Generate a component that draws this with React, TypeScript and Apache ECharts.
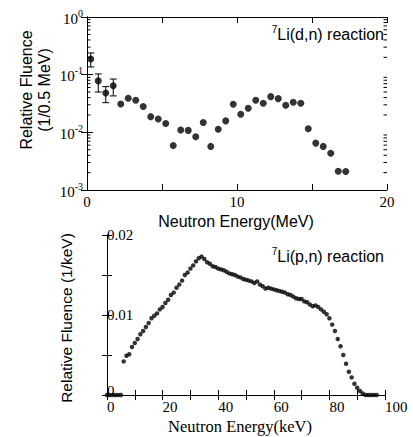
import React, { useEffect, useRef } from 'react';
import * as echarts from 'echarts';

// 7Li(d,n) spectrum (per 0.5 MeV bin)
const dnEnergy = [0.25, 0.75, 1.25, 1.75, 2.25, 2.75, 3.25, 3.75, 4.25, 4.75, 5.25, 5.75, 6.25, 6.75, 7.25, 7.75, 8.25, 8.75, 9.25, 9.75, 10.25, 10.75, 11.25, 11.75, 12.25, 12.75, 13.25, 13.75, 14.25, 14.75, 15.25, 15.75, 16.25, 16.75, 17.25];
const dnFluence = [0.187, 0.078, 0.048, 0.064, 0.031, 0.039, 0.036, 0.028, 0.0187, 0.017, 0.0142, 0.0059, 0.011, 0.0108, 0.0084, 0.0148, 0.0057, 0.0113, 0.0158, 0.0307, 0.0206, 0.0261, 0.036, 0.0319, 0.0416, 0.0384, 0.0295, 0.0332, 0.0319, 0.0115, 0.0065, 0.0057, 0.00434, 0.00212, 0.00209];
// error bars for the first four points
const dnErrEnergy = [0.25, 0.75, 1.25, 1.75];
const dnErrLow = [0.136, 0.05, 0.0327, 0.0428];
const dnErrHigh = [0.238, 0.103, 0.062, 0.084];

// 7Li(p,n) spectrum (per keV)
const pnEnergy = [0, 1, 2, 3, 4, 5, 6, 7, 8, 9, 10, 11, 12, 13, 14, 15, 16, 17, 18, 19, 20, 21, 22, 23, 24, 25, 26, 27, 28, 29, 30, 31, 32, 33, 34, 35, 36, 37, 38, 39, 40, 41, 42, 43, 44, 45, 46, 47, 48, 49, 50, 51, 52, 53, 54, 55, 56, 57, 58, 59, 60, 61, 62, 63, 64, 65, 66, 67, 68, 69, 70, 71, 72, 73, 74, 75, 76, 77, 78, 79, 80, 81, 82, 83, 84, 85, 86, 87, 88, 89, 90, 91, 92, 93, 94, 95, 96, 97];
const pnFluence = [
  0, 0, 0, 0, 0, 0,
  0.0042, 0.0049, 0.0051, 0.006, 0.0065, 0.007, 0.0076, 0.008, 0.0085, 0.009,
  0.0096, 0.0099, 0.0102, 0.0107, 0.011, 0.0115, 0.0119, 0.0125, 0.0128, 0.0134,
  0.0138, 0.0143, 0.015, 0.0153, 0.0158, 0.0162, 0.0167, 0.0171, 0.0173, 0.017,
  0.0166, 0.0164, 0.0161, 0.016, 0.0158, 0.0157, 0.0156, 0.0154, 0.0152, 0.0151,
  0.015, 0.0148, 0.0147, 0.0145, 0.0144, 0.0143, 0.0142, 0.014, 0.0142, 0.0138,
  0.0136, 0.0133, 0.0134, 0.0133, 0.0132, 0.0131, 0.013, 0.0129, 0.0128, 0.0126,
  0.0125, 0.0123, 0.0121, 0.012, 0.012, 0.0117, 0.0116, 0.0113, 0.0111, 0.0112,
  0.011, 0.0107, 0.0104, 0.0101, 0.0096, 0.0088, 0.008, 0.007, 0.0061, 0.005,
  0.0039, 0.0029, 0.0022, 0.0014, 0.0009, 0.0005, 0.0002, 0, 0, 0,
  0, 0,
];

const dnXLabels = [0, 10, 20];
const pnXLabels = [0, 20, 40, 60, 80, 100];
const pnYLabels = ['0', '0.01', '0.02'];

const SERIF = '"Liberation Serif", "Times New Roman", serif';
const SANS = '"Liberation Sans", Arial, sans-serif';
const BLACK = '#000';

export default function App() {
  const ref = useRef<HTMLDivElement>(null);
  useEffect(() => {
    if (!ref.current) return;
    const chart = echarts.init(ref.current, undefined, { renderer: 'svg' });

    const minorLog: number[][] = [];
    for (let n = -3; n < 0; n++) {
      for (let k = 2; k <= 9; k++) minorLog.push([0, k * Math.pow(10, n)]);
    }

    const line = { lineStyle: { color: BLACK, width: 1 } };
    const tickStyle = (len: number) => ({ show: true, inside: true, length: len, lineStyle: { color: BLACK, width: 1 } });

    const option: any = {
      animation: false,
      backgroundColor: '#fff',
      grid: [
        { left: 87, top: 17, width: 300, height: 173 },
        { left: 107, top: 235, width: 278, height: 160 },
      ],
      xAxis: [
        {
          gridIndex: 0, type: 'value', position: 'bottom', min: 0, max: 20, interval: 5,
          axisLine: { show: true, ...line }, axisTick: tickStyle(6), splitLine: { show: false },
          axisLabel: {
            margin: 4, fontFamily: SERIF, fontSize: 15, color: BLACK,
            formatter: (v: number) => (dnXLabels.indexOf(v) >= 0 ? String(v) : ''),
          },
        },
        {
          gridIndex: 0, type: 'value', position: 'top', min: 0, max: 20, interval: 5,
          axisLine: { show: true, ...line }, axisTick: tickStyle(6), splitLine: { show: false },
          axisLabel: { show: false },
        },
        {
          gridIndex: 1, type: 'value', position: 'bottom', min: 0, max: 100, interval: 10,
          axisLine: { show: true, ...line }, axisTick: tickStyle(5), splitLine: { show: false },
          axisLabel: {
            margin: 6, align: 'left', fontFamily: SERIF, fontSize: 15, lineHeight: 11, color: BLACK,
            formatter: (v: number) => (pnXLabels.indexOf(v) >= 0 ? String(v) : ''),
          },
        },
        {
          gridIndex: 1, type: 'value', position: 'top', min: 0, max: 100, interval: 10,
          axisLine: { show: true, ...line }, axisTick: tickStyle(5), splitLine: { show: false },
          axisLabel: { show: false },
        },
      ],
      yAxis: [
        {
          gridIndex: 0, type: 'log', logBase: 10, position: 'left', min: 0.001, max: 1,
          axisLine: { show: true, ...line }, axisTick: tickStyle(6), splitLine: { show: false },
          axisLabel: {
            margin: 4, color: BLACK,
            formatter: (v: number) => `{b|10}{s|${Math.round(Math.log10(v))}}`,
            rich: {
              b: { fontFamily: SERIF, fontSize: 15, color: BLACK, verticalAlign: 'bottom', lineHeight: 18 },
              s: { fontFamily: SERIF, fontSize: 10, color: BLACK, verticalAlign: 'top', lineHeight: 18 },
            },
          },
        },
        {
          gridIndex: 0, type: 'log', logBase: 10, position: 'right', min: 0.001, max: 1,
          axisLine: { show: true, ...line }, axisTick: tickStyle(6), splitLine: { show: false },
          axisLabel: { show: false },
        },
        {
          gridIndex: 1, type: 'value', position: 'left', min: 0, max: 0.02, interval: 0.005,
          axisLine: { show: true, ...line }, axisTick: tickStyle(5), splitLine: { show: false },
          axisLabel: {
            inside: true, margin: 0, fontFamily: SERIF, fontSize: 15, lineHeight: 11, color: BLACK,
            formatter: (v: number) => {
              const s = v === 0 ? '0' : String(Math.round(v * 1000) / 1000);
              if (s === '0') return '{z|0}';
              return pnYLabels.indexOf(s) >= 0 ? s : '';
            },
            rich: {
              z: { fontFamily: SERIF, fontSize: 15, lineHeight: 11, color: BLACK, padding: [0, 0, 8, 0] },
            },
          },
        },
        {
          gridIndex: 1, type: 'value', position: 'right', min: 0, max: 0.02, interval: 0.005,
          axisLine: { show: true, ...line }, axisTick: tickStyle(5), splitLine: { show: false },
          axisLabel: { show: false },
        },
      ],
      series: [
        {
          type: 'custom', xAxisIndex: 0, yAxisIndex: 0, silent: true, clip: false,
          data: minorLog,
          encode: { x: 0, y: 1 },
          renderItem: (params: any, api: any) => {
            const cs = params.coordSys;
            const y = api.coord([0, api.value(1)])[1];
            const st = { stroke: BLACK, lineWidth: 1 };
            return {
              type: 'group',
              children: [
                { type: 'line', shape: { x1: cs.x, y1: y, x2: cs.x + 3.5, y2: y }, style: st },
                { type: 'line', shape: { x1: cs.x + cs.width - 3.5, y1: y, x2: cs.x + cs.width, y2: y }, style: st },
              ],
            };
          },
        },
        {
          type: 'custom', xAxisIndex: 0, yAxisIndex: 0, silent: true, clip: false,
          data: dnErrEnergy.map((e, i) => [e, dnErrLow[i], dnErrHigh[i]]),
          encode: { x: 0, y: [1, 2] },
          renderItem: (params: any, api: any) => {
            const x = api.value(0);
            const lo = api.coord([x, api.value(1)]);
            const hi = api.coord([x, api.value(2)]);
            const w = 3.5;
            const st = { stroke: BLACK, lineWidth: 1 };
            return {
              type: 'group',
              children: [
                { type: 'line', shape: { x1: lo[0], y1: lo[1], x2: hi[0], y2: hi[1] }, style: st },
                { type: 'line', shape: { x1: lo[0] - w, y1: lo[1], x2: lo[0] + w, y2: lo[1] }, style: st },
                { type: 'line', shape: { x1: hi[0] - w, y1: hi[1], x2: hi[0] + w, y2: hi[1] }, style: st },
              ],
            };
          },
        },
        {
          type: 'scatter', xAxisIndex: 0, yAxisIndex: 0, symbol: 'circle', symbolSize: 7,
          itemStyle: { color: BLACK },
          data: dnEnergy.map((e, i) => [e, dnFluence[i]]),
        },
        {
          type: 'scatter', xAxisIndex: 2, yAxisIndex: 2, symbol: 'circle', symbolSize: 4.5,
          itemStyle: { color: BLACK },
          data: pnEnergy.map((e, i) => [e, pnFluence[i]]),
        },
      ],
      graphic: [
        {
          type: 'text', x: 26, y: 90, rotation: Math.PI / 2,
          style: { text: 'Relative Fluence', font: `16px ${SANS}`, fill: BLACK, align: 'center', verticalAlign: 'middle' },
        },
        {
          type: 'text', x: 44, y: 90, rotation: Math.PI / 2,
          style: { text: '(1/0.5 MeV)', font: `16px ${SANS}`, fill: BLACK, align: 'center', verticalAlign: 'middle' },
        },
        {
          type: 'text', x: 236, y: 221,
          style: { text: 'Neutron Energy(MeV)', font: `16px ${SANS}`, fill: BLACK, align: 'center', verticalAlign: 'middle' },
        },
        {
          type: 'text', x: 384, y: 33,
          style: {
            text: '{s|7}{n|Li(d,n) reaction}', align: 'right', verticalAlign: 'middle',
            rich: {
              s: { fontFamily: SANS, fontSize: 10, fill: BLACK, verticalAlign: 'top', lineHeight: 18 },
              n: { fontFamily: SANS, fontSize: 16, fill: BLACK, verticalAlign: 'bottom', lineHeight: 18 },
            },
          },
        },
        {
          type: 'text', x: 66, y: 318, rotation: Math.PI / 2,
          style: { text: 'Relative Fluence (1/keV)', font: `15.5px ${SANS}`, fill: BLACK, align: 'center', verticalAlign: 'middle' },
        },
        {
          type: 'text', x: 240, y: 426,
          style: { text: 'Neutron Energy(keV)', font: `16.5px ${SERIF}`, fill: BLACK, align: 'center', verticalAlign: 'middle' },
        },
        {
          type: 'text', x: 384, y: 255,
          style: {
            text: '{s|7}{n|Li(p,n) reaction}', align: 'right', verticalAlign: 'middle',
            rich: {
              s: { fontFamily: SANS, fontSize: 10, fill: BLACK, verticalAlign: 'top', lineHeight: 18 },
              n: { fontFamily: SANS, fontSize: 16, fill: BLACK, verticalAlign: 'bottom', lineHeight: 18 },
            },
          },
        },
      ],
    };

    chart.setOption(option);
    return () => chart.dispose();
  }, []);

  return <div ref={ref} style={{ position: 'fixed', left: 0, top: 0, width: 413, height: 437 }} />;
}
